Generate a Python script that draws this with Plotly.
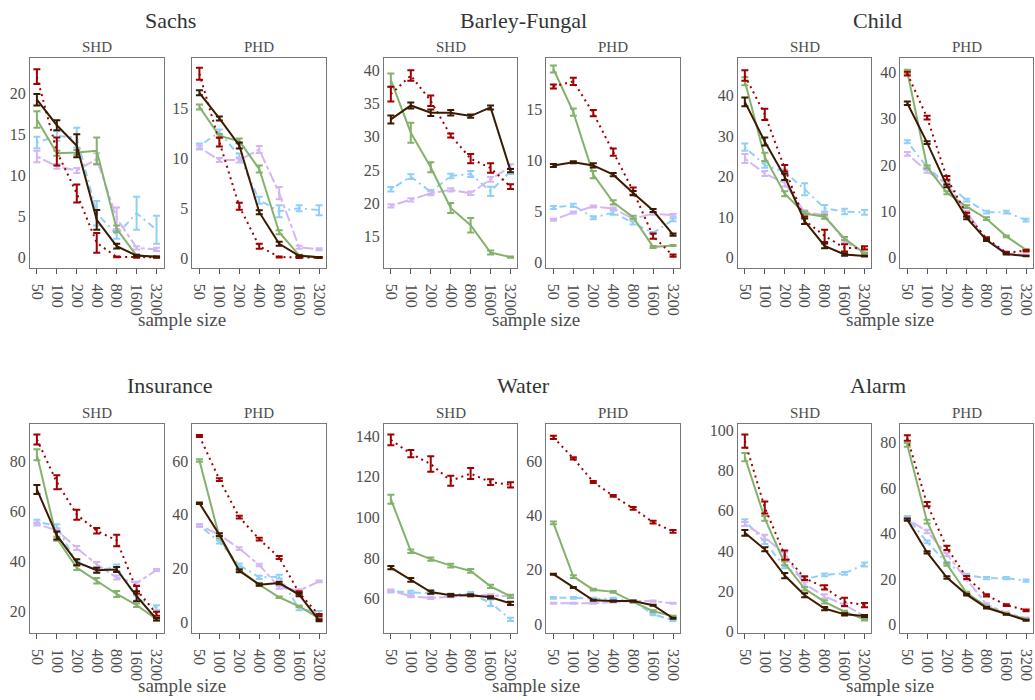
import plotly.graph_objects as go

W, H = 1035, 700
SIZES = ["50", "100", "200", "400", "800", "1600", "3200"]
DATASETS = ["Sachs", "Barley-Fungal", "Child", "Insurance", "Water", "Alarm"]
METRICS = ["SHD", "PHD"]
SERIES = ["blue", "purple", "green", "red", "brown"]

# ---- data: mean values and error half-widths per panel ----
sachs_shd_mean = {"red": [22.0, 12.9, 7.8, 1.8, 0.1, 0.05, 0.05],
                  "green": [16.8, 12.7, 12.8, 13.0, 3.5, 0.25, 0.1],
                  "brown": [19.2, 16.1, 13.6, 4.6, 1.4, 0.25, 0.1],
                  "blue": [14.0, 14.8, 14.6, 5.4, 2.8, 5.4, 3.4],
                  "purple": [12.3, 11.1, 10.6, 12.0, 4.8, 1.2, 1.0]}
sachs_shd_err = {"red": [0.9, 1.7, 1.1, 1.2, 0.05, 0.05, 0.05],
                 "green": [1.0, 0.3, 0.3, 1.6, 0.4, 0.1, 0.05],
                 "brown": [0.7, 0.6, 1.4, 1.2, 0.3, 0.1, 0.05],
                 "blue": [0.7, 0.6, 1.2, 1.5, 0.5, 2.0, 1.7],
                 "purple": [0.7, 0.3, 0.3, 0.7, 1.3, 0.2, 0.2]}

sachs_phd_mean = {"red": [18.4, 11.6, 5.2, 1.2, 0.13, 0.07, 0.05],
                  "green": [15.1, 12.2, 11.7, 8.9, 2.6, 0.3, 0.1],
                  "brown": [16.5, 13.95, 11.25, 4.6, 1.45, 0.25, 0.1],
                  "blue": [11.2, 12.6, 10.2, 5.8, 4.7, 5.0, 4.8],
                  "purple": [11.05, 9.8, 9.8, 10.85, 6.5, 1.1, 0.9]}
sachs_phd_err = {"red": [0.6, 0.45, 0.35, 0.25, 0.05, 0.05, 0.03],
                 "green": [0.25, 0.2, 0.25, 0.35, 0.2, 0.05, 0.03],
                 "brown": [0.25, 0.2, 0.3, 0.2, 0.2, 0.05, 0.03],
                 "blue": [0.25, 0.25, 0.25, 0.35, 0.6, 0.3, 0.5],
                 "purple": [0.2, 0.2, 0.25, 0.35, 0.6, 0.15, 0.1]}

barley_shd_mean = {"red": [36.4, 39.2, 35.4, 30.2, 26.7, 25.3, 22.5],
                   "green": [38.5, 30.6, 25.4, 19.3, 16.7, 12.6, 11.9],
                   "brown": [32.6, 34.7, 33.6, 33.6, 33.1, 34.4, 24.9],
                   "blue": [22.1, 24.0, 21.7, 24.1, 24.4, 21.8, 24.8],
                   "purple": [19.6, 20.5, 21.5, 22.0, 21.5, 23.6, 25.5]}
barley_shd_err = {"red": [1.1, 0.8, 0.8, 0.3, 0.7, 0.7, 0.35],
                  "green": [1.0, 1.5, 0.75, 0.75, 1.1, 0.3, 0.1],
                  "brown": [0.6, 0.45, 0.5, 0.4, 0.25, 0.3, 0.25],
                  "blue": [0.35, 0.35, 0.3, 0.35, 0.45, 0.7, 0.4],
                  "purple": [0.25, 0.25, 0.3, 0.25, 0.25, 0.35, 0.35]}

barley_phd_mean = {"red": [17.2, 17.7, 14.6, 10.8, 7.0, 2.6, 0.7],
                   "green": [18.9, 14.7, 8.6, 5.9, 4.45, 1.55, 1.7],
                   "brown": [9.5, 9.8, 9.5, 8.6, 6.8, 5.1, 2.75],
                   "blue": [5.4, 5.6, 4.4, 4.9, 3.9, 2.9, 4.2],
                   "purple": [4.2, 4.9, 5.5, 5.3, 4.3, 4.8, 4.65]}
barley_phd_err = {"red": [0.2, 0.35, 0.3, 0.35, 0.35, 0.25, 0.1],
                  "green": [0.35, 0.35, 0.35, 0.2, 0.15, 0.1, 0.05],
                  "brown": [0.15, 0.1, 0.2, 0.15, 0.2, 0.15, 0.1],
                  "blue": [0.15, 0.15, 0.15, 0.2, 0.15, 0.1, 0.15],
                  "purple": [0.1, 0.1, 0.1, 0.1, 0.1, 0.1, 0.1]}

child_shd_mean = {"red": [45.0, 35.4, 22.1, 9.2, 5.4, 2.4, 2.4],
                  "green": [43.6, 24.9, 15.8, 10.9, 10.1, 4.7, 1.1],
                  "brown": [38.5, 28.7, 20.0, 9.0, 2.9, 0.8, 0.4],
                  "blue": [27.3, 22.9, 21.2, 16.9, 12.2, 11.4, 11.2],
                  "purple": [24.5, 20.8, 18.4, 11.2, 10.6, 4.1, 0.9]}
child_shd_err = {"red": [1.3, 1.4, 0.8, 0.9, 1.5, 0.9, 0.4],
                 "green": [1.0, 1.0, 0.6, 0.5, 0.5, 0.4, 0.2],
                 "brown": [1.1, 1.0, 0.8, 0.7, 0.6, 0.3, 0.1],
                 "blue": [0.9, 0.7, 0.6, 1.5, 0.8, 0.7, 0.6],
                 "purple": [1.1, 0.6, 0.8, 0.5, 0.5, 0.4, 0.2]}

child_phd_mean = {"red": [39.7, 30.2, 17.2, 9.3, 4.1, 1.1, 1.5],
                  "green": [40.1, 19.6, 14.0, 11.0, 8.4, 4.6, 1.7],
                  "brown": [33.3, 24.8, 15.5, 8.6, 3.8, 0.8, 0.35],
                  "blue": [25.0, 19.5, 15.9, 12.4, 9.8, 9.8, 8.1],
                  "purple": [22.4, 18.6, 15.9, 9.8, 4.0, 1.0, 0.6]}
child_phd_err = {"red": [0.4, 0.4, 0.4, 0.4, 0.3, 0.15, 0.15],
                 "green": [0.4, 0.3, 0.3, 0.3, 0.3, 0.2, 0.15],
                 "brown": [0.4, 0.3, 0.3, 0.3, 0.2, 0.1, 0.05],
                 "blue": [0.3, 0.3, 0.3, 0.3, 0.3, 0.3, 0.3],
                 "purple": [0.4, 0.3, 0.3, 0.3, 0.3, 0.1, 0.1]}

insurance_shd_mean = {"red": [88.9, 71.8, 58.8, 52.4, 48.5, 28.8, 19.2],
                      "green": [82.8, 49.2, 37.6, 32.4, 27.1, 22.6, 17.0],
                      "brown": [68.9, 50.5, 39.8, 36.6, 36.9, 26.2, 17.0],
                      "blue": [56.0, 54.2, 39.3, 36.8, 37.6, 25.5, 21.6],
                      "purple": [55.1, 52.5, 45.5, 38.9, 33.7, 31.4, 36.7]}
insurance_shd_err = {"red": [2.0, 2.8, 2.0, 1.1, 2.3, 1.5, 0.8],
                     "green": [2.2, 0.8, 0.9, 1.1, 1.2, 0.7, 0.5],
                     "brown": [1.8, 1.6, 1.2, 1.0, 1.0, 2.0, 0.5],
                     "blue": [0.8, 0.8, 0.7, 1.0, 1.3, 1.0, 1.0],
                     "purple": [0.6, 0.5, 0.8, 1.0, 0.8, 0.6, 0.4]}

insurance_phd_mean = {"red": [69.3, 53.1, 39.1, 30.9, 24.1, 10.9, 2.7],
                      "green": [60.2, 31.7, 19.5, 14.0, 9.3, 5.9, 1.5],
                      "brown": [44.3, 32.6, 19.1, 14.0, 14.6, 10.3, 0.7],
                      "blue": [36.0, 29.9, 21.3, 16.7, 17.0, 5.1, 3.6],
                      "purple": [36.0, 32.6, 27.4, 21.3, 13.0, 11.8, 15.2]}
insurance_phd_err = {"red": [0.4, 0.5, 0.5, 0.5, 0.6, 0.6, 0.4],
                     "green": [0.5, 0.4, 0.4, 0.4, 0.3, 0.3, 0.2],
                     "brown": [0.3, 0.5, 0.5, 0.4, 0.5, 0.6, 0.3],
                     "blue": [0.5, 0.6, 0.6, 0.6, 0.7, 0.6, 0.6],
                     "purple": [0.5, 0.4, 0.5, 0.5, 0.5, 0.5, 0.3]}

water_shd_mean = {"red": [138.1, 131.3, 126.2, 118.0, 121.5, 117.3, 116.0],
                  "green": [108.9, 83.3, 79.4, 76.2, 73.6, 66.0, 61.1],
                  "brown": [75.2, 69.2, 63.2, 61.6, 61.6, 60.6, 57.6],
                  "blue": [63.6, 63.2, 62.6, 62.0, 62.4, 57.9, 49.8],
                  "purple": [63.9, 61.1, 60.3, 61.1, 61.6, 61.6, 61.1]}
water_shd_err = {"red": [2.7, 1.8, 3.8, 2.5, 2.7, 1.4, 1.3],
                 "green": [2.2, 0.9, 0.8, 0.9, 0.9, 0.8, 0.8],
                 "brown": [0.8, 0.9, 0.8, 0.6, 0.5, 0.6, 0.8],
                 "blue": [0.6, 0.6, 0.5, 0.5, 0.8, 1.6, 0.8],
                 "purple": [0.5, 0.5, 0.5, 0.5, 0.5, 0.5, 0.5]}

water_phd_mean = {"red": [68.7, 61.0, 52.3, 47.2, 42.6, 37.5, 34.1],
                  "green": [37.3, 17.5, 12.7, 11.9, 8.2, 4.8, 2.9],
                  "brown": [18.4, 13.5, 8.8, 8.5, 8.5, 7.0, 2.2],
                  "blue": [9.7, 9.7, 9.4, 9.4, 8.5, 3.6, 1.5],
                  "purple": [7.7, 7.7, 7.7, 8.2, 8.5, 8.5, 7.7]}
water_phd_err = {"red": [0.6, 0.4, 0.4, 0.3, 0.5, 0.5, 0.5],
                 "green": [0.5, 0.5, 0.3, 0.3, 0.3, 0.3, 0.2],
                 "brown": [0.2, 0.2, 0.2, 0.2, 0.2, 0.2, 0.2],
                 "blue": [0.3, 0.3, 0.3, 0.3, 0.3, 0.3, 0.3],
                 "purple": [0.2, 0.2, 0.2, 0.2, 0.2, 0.2, 0.2]}

alarm_shd_mean = {"red": [94.6, 61.6, 37.9, 26.5, 21.9, 14.7, 13.1],
                  "green": [86.6, 56.2, 33.8, 21.2, 14.7, 9.8, 6.0],
                  "brown": [49.0, 40.8, 27.8, 18.0, 11.4, 8.5, 7.7],
                  "blue": [55.1, 44.4, 32.2, 26.1, 28.1, 28.9, 33.3],
                  "purple": [53.4, 46.9, 38.2, 23.5, 17.5, 13.1, 7.7]}
alarm_shd_err = {"red": [3.3, 3.0, 2.3, 0.9, 1.1, 2.0, 1.1],
                 "green": [2.0, 1.2, 1.0, 0.8, 0.8, 0.5, 0.5],
                 "brown": [1.4, 1.0, 1.3, 1.0, 0.8, 0.6, 0.5],
                 "blue": [0.7, 1.0, 0.8, 0.8, 0.7, 0.7, 1.0],
                 "purple": [1.0, 1.2, 1.0, 1.2, 1.0, 0.8, 0.5]}

alarm_phd_mean = {"red": [82.0, 53.0, 33.8, 20.8, 13.0, 8.7, 6.4],
                  "green": [79.0, 45.3, 26.6, 14.0, 8.1, 4.9, 2.5],
                  "brown": [46.2, 31.8, 20.8, 13.3, 7.5, 4.6, 2.0],
                  "blue": [47.2, 36.4, 27.0, 21.9, 20.5, 20.5, 19.4],
                  "purple": [46.5, 41.0, 30.9, 20.2, 9.0, 5.3, 2.9]}
alarm_phd_err = {"red": [1.2, 0.9, 0.9, 0.7, 0.5, 0.4, 0.4],
                 "green": [0.8, 0.8, 0.6, 0.5, 0.3, 0.3, 0.2],
                 "brown": [0.5, 0.5, 0.5, 0.4, 0.3, 0.2, 0.2],
                 "blue": [0.6, 0.6, 0.6, 0.5, 0.5, 0.5, 0.5],
                 "purple": [0.5, 0.8, 0.8, 0.6, 0.5, 0.5, 0.3]}

PANELS = [
    (sachs_shd_mean, sachs_shd_err), (sachs_phd_mean, sachs_phd_err),
    (barley_shd_mean, barley_shd_err), (barley_phd_mean, barley_phd_err),
    (child_shd_mean, child_shd_err), (child_phd_mean, child_phd_err),
    (insurance_shd_mean, insurance_shd_err), (insurance_phd_mean, insurance_phd_err),
    (water_shd_mean, water_shd_err), (water_phd_mean, water_phd_err),
    (alarm_shd_mean, alarm_shd_err), (alarm_phd_mean, alarm_phd_err),
]

# ---- styles ----
COLORS = {"red": "#A00000", "green": "#84B26C", "brown": "#3C1A02",
          "blue": "#92CFF8", "purple": "#D4B6F5"}
DASHES = {"red": "2px,4px", "green": "solid", "brown": "solid",
          "blue": "2px,4px,7px,4px", "purple": "4px,3px,11px,3px"}

Y_RANGES = [(-1.2, 24.24), (-0.92, 19.95), (10.34, 41.79), (-0.46, 19.95),
            (-2.44, 49.27), (-2.13, 43.0), (11.58, 95.26), (-3.92, 73.96),
            (43.16, 146.15), (-3.15, 73.8), (-0.65, 103.3), (-3.47, 88.4)]
Y_DTICK = [5, 5, 5, 5, 10, 10, 20, 20, 20, 20, 20, 20]

LEFTS = [29, 192, 384, 547, 739, 902]
PW = 134
ROWS = [(57, 269), (427, 639)]
FONT = "Liberation Serif, Times New Roman, serif"
TXT = "#4D4D4D"

fig = go.Figure()
layout = {}
for k, (means, errs) in enumerate(PANELS):
    r, c = divmod(k, 6)
    ax = "" if k == 0 else str(k + 1)
    for s in SERIES:
        fig.add_trace(go.Scatter(
            x=SIZES, y=means[s], mode="lines",
            line=dict(color=COLORS[s], width=2, dash=DASHES[s]),
            error_y=dict(type="data", array=errs[s], color=COLORS[s],
                         thickness=2, width=3.5),
            xaxis="x" + ax, yaxis="y" + ax, showlegend=False,
            hoverinfo="x+y"))
    top, bot = ROWS[r]
    x0 = LEFTS[c] / W
    x1 = min((LEFTS[c] + PW) / W, 1.0)
    layout["xaxis" + ax] = dict(
        domain=[x0, x1], anchor="y" + ax, type="category",
        categoryorder="array", categoryarray=SIZES,
        range=[-0.35, 6.35], showline=True, mirror=True, linecolor="#777777",
        linewidth=1, ticks="outside", ticklen=5, tickcolor="#555555",
        tickangle=90, showgrid=False, zeroline=False,
        tickfont=dict(family=FONT, size=16, color=TXT), ticklabelstandoff=7)
    layout["yaxis" + ax] = dict(
        domain=[1 - bot / H, 1 - top / H], anchor="x" + ax,
        range=list(Y_RANGES[k]), dtick=Y_DTICK[k], tick0=0,
        showline=True, mirror=True, linecolor="#777777", linewidth=1,
        ticks="", showgrid=False, zeroline=False,
        tickfont=dict(family=FONT, size=16, color=TXT))

annotations = []
for i, name in enumerate(DATASETS):
    r, c = divmod(i, 3)
    left = LEFTS[2 * c]
    right = LEFTS[2 * c + 1] + PW
    center = (left + right) / 2
    top, bot = ROWS[r]
    annotations.append(dict(text=name, x=(center - 8) / W, y=1 - (top - 38) / H,
                            xref="paper", yref="paper", showarrow=False,
                            xanchor="center", yanchor="middle",
                            font=dict(family=FONT, size=22, color="#333333")))
    annotations.append(dict(text="sample size", x=(center + 4) / W,
                            y=1 - (bot + 53) / H, xref="paper", yref="paper",
                            showarrow=False, xanchor="center", yanchor="middle",
                            font=dict(family=FONT, size=19, color=TXT)))
    for j, m in enumerate(METRICS):
        pl = LEFTS[2 * c + j]
        annotations.append(dict(text=m, x=(pl + PW / 2) / W, y=1 - (top - 11) / H,
                                xref="paper", yref="paper", showarrow=False,
                                xanchor="center", yanchor="middle",
                                font=dict(family=FONT, size=15, color=TXT)))

fig.update_layout(width=W, height=H, margin=dict(l=0, r=0, t=0, b=0),
                  paper_bgcolor="white", plot_bgcolor="white",
                  annotations=annotations, showlegend=False, **layout)
fig.write_html("out.html")
